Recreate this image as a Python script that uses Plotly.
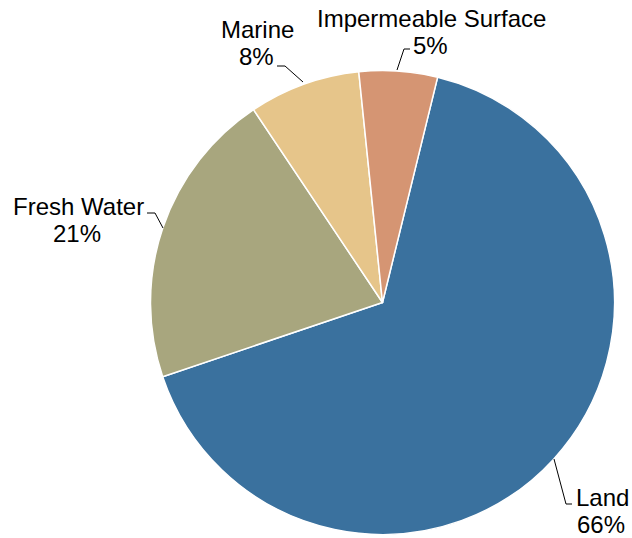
import plotly.graph_objects as go

labels = ["Land", "Fresh Water", "Marine", "Impermeable Surface"]
values = [66.0, 20.8, 7.75, 5.45]
colors = ["#3a719e", "#a8a67e", "#e6c58a", "#d59573"]

W, H = 632, 538
CX, CY, R = 382.5, 302.5, 232

# label placement (pixel centres of the two text lines) and leader lines
label_pos = [
    ((602, 497), (601, 524)),
    ((78, 206), (77, 234)),
    ((257, 30), (256, 57)),
    ((431, 19), (430, 46)),
]
leader = [
    [(554, 459), (566, 504), (572, 504)],
    [(147, 213), (155, 213), (163, 228)],
    [(277, 66), (285, 66), (303, 82)],
    [(410, 49), (404, 49), (397, 70)],
]

def px(x):
    return x / W

def py(y):
    return 1 - y / H

fig = go.Figure(go.Pie(
    labels=labels,
    values=values,
    sort=False,
    direction="clockwise",
    rotation=13.75,
    marker=dict(colors=colors, line=dict(color="white", width=1.5)),
    textinfo="none",
    showlegend=False,
    hoverinfo="label+percent",
    domain=dict(x=[px(CX - R), px(CX + R)], y=[py(CY + R), py(CY - R)]),
))

total = sum(values)
font = dict(family="Liberation Sans, Arial, sans-serif", size=24, color="black")
for lab, val, (p1, p2), pts in zip(labels, values, label_pos, leader):
    pct = f"{round(100 * val / total)}%"
    fig.add_annotation(x=px(p1[0]), y=py(p1[1]), xref="paper", yref="paper",
                       text=lab, showarrow=False, xanchor="center", yanchor="middle", font=font)
    fig.add_annotation(x=px(p2[0]), y=py(p2[1]), xref="paper", yref="paper",
                       text=pct, showarrow=False, xanchor="center", yanchor="middle", font=font)
    path = "M " + " L ".join(f"{px(x)},{py(y)}" for x, y in pts)
    fig.add_shape(type="path", path=path, xref="paper", yref="paper",
                  line=dict(color="black", width=1))

fig.update_layout(
    width=W, height=H,
    margin=dict(t=0, b=0, l=0, r=0),
    paper_bgcolor="white",
    plot_bgcolor="white",
)

fig.write_html(
    "out.html",
    config={"displayModeBar": False},
    post_script="document.body.style.margin='0';document.body.style.overflow='hidden';",
)
